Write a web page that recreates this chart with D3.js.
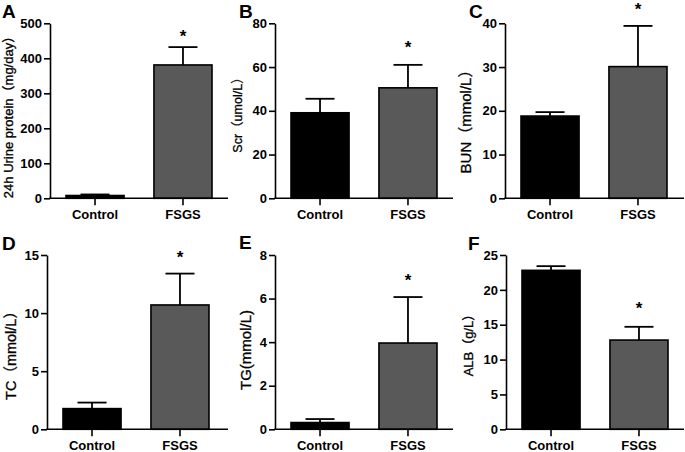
<!DOCTYPE html>
<html>
<head>
<meta charset="utf-8">
<script src="https://cdn.jsdelivr.net/npm/d3@7"></script>
<style>
  html, body { margin: 0; padding: 0; background: #fff; }
  svg { display: block; font-family: "Liberation Sans", Arial, "Noto Sans CJK SC", sans-serif; }
</style>
</head>
<body>
<svg id="chart" width="685" height="452"></svg>
<script>
// ---- data ----
const categories = ["Control", "FSGS"];
const panelLetters = ["A", "B", "C", "D", "E", "F"];
const yTitles = ["24h Urine protein（mg/day）", "Scr（umol/L）", "BUN（mmol/L）", "TC（mmol/L）", "TG(mmol/L)", "ALB（g/L）"];
const yMax = [500, 80, 40, 15, 8, 25];
const yTickStep = [100, 20, 10, 5, 2, 5];
const controlMean = [8, 39.1, 18.8, 1.78, 0.31, 22.8];
const controlUpper = [11, 45.5, 19.7, 2.3, 0.47, 23.4];
const fsgsMean = [381, 50.5, 30.1, 10.7, 3.96, 12.8];
const fsgsUpper = [432, 61, 39.4, 13.4, 6.07, 14.7];
const significant = ["FSGS", "FSGS", "FSGS", "FSGS", "FSGS", "FSGS"];

// ---- layout (not data) ----
const layout = [
  { axisX: 50,  top: 23.3, bottom: 198.3, right: 228, titleX: 13,  titleY: 114, titleSize: 13,   starGap: 14, letterX: 2,   letterY: 18 },
  { axisX: 275, top: 23.3, bottom: 198.3, right: 453, titleX: 242, titleY: 112, titleSize: 12.5, starGap: 21, letterX: 239, letterY: 18 },
  { axisX: 505, top: 23.3, bottom: 198.3, right: 684, titleX: 471, titleY: 118, titleSize: 15,   starGap: 20, letterX: 469, letterY: 18 },
  { axisX: 47,  top: 255,  bottom: 429.3, right: 228, titleX: 16,  titleY: 352, titleSize: 14.5, starGap: 20, letterX: 2,   letterY: 250 },
  { axisX: 275, top: 255,  bottom: 429.3, right: 453, titleX: 251, titleY: 350, titleSize: 15,   starGap: 20, letterX: 239, letterY: 249 },
  { axisX: 506, top: 255,  bottom: 429.3, right: 684, titleX: 473, titleY: 342, titleSize: 13,   starGap: 22, letterX: 468, letterY: 250 }
];
const fills = { Control: "#000000", FSGS: "#595959" };

const svg = d3.select("#chart");

panelLetters.forEach((letter, i) => {
  const L = layout[i];
  const g = svg.append("g");
  const y = d3.scaleLinear().domain([0, yMax[i]]).range([L.bottom, L.top]);
  const x = d3.scaleBand().domain(categories)
    .range([L.axisX + 16, L.axisX + 16 + 146]).paddingInner(0.34).paddingOuter(0);

  const rows = [
    { cat: "Control", mean: controlMean[i], upper: controlUpper[i] },
    { cat: "FSGS", mean: fsgsMean[i], upper: fsgsUpper[i] }
  ];

  // error bars
  const capW = 29;
  rows.forEach(r => {
    const cx = x(r.cat) + x.bandwidth() / 2;
    g.append("line").attr("x1", cx).attr("x2", cx)
      .attr("y1", y(r.mean)).attr("y2", y(r.upper))
      .attr("stroke", "#000").attr("stroke-width", 1.8);
    g.append("line").attr("x1", cx - capW / 2).attr("x2", cx + capW / 2)
      .attr("y1", y(r.upper)).attr("y2", y(r.upper))
      .attr("stroke", "#000").attr("stroke-width", 1.8);
  });

  // bars
  g.selectAll("rect.bar").data(rows).enter().append("rect")
    .attr("class", "bar")
    .attr("x", d => x(d.cat))
    .attr("width", x.bandwidth())
    .attr("y", d => y(d.mean))
    .attr("height", d => y(0) - y(d.mean))
    .attr("fill", d => fills[d.cat])
    .attr("stroke", "#000").attr("stroke-width", 1.6);

  // y axis
  const ticks = d3.range(0, yMax[i] + 1e-9, yTickStep[i]);
  const yAxis = d3.axisLeft(y).tickValues(ticks).tickSize(6).tickSizeOuter(0).tickPadding(2)
    .tickFormat(d3.format("d"));
  const ya = g.append("g").attr("transform", `translate(${L.axisX},0)`).call(yAxis);
  ya.select(".domain").attr("stroke-width", 1.6);
  ya.selectAll(".tick line").attr("stroke-width", 1.6);
  ya.selectAll(".tick text").attr("font-size", 13).attr("font-weight", "bold")
    .attr("font-family", "'Liberation Sans', Arial, sans-serif").attr("fill", "#000");

  // x axis
  const xa = g.append("g").attr("transform", `translate(0,${L.bottom})`);
  xa.append("line").attr("x1", L.axisX - 0.8).attr("x2", L.right)
    .attr("y1", 0).attr("y2", 0).attr("stroke", "#000").attr("stroke-width", 1.6);
  const xAxis = d3.axisBottom(x).tickSize(7).tickSizeOuter(0).tickPadding(4);
  const xg = xa.append("g").call(xAxis);
  xg.select(".domain").remove();
  xg.selectAll(".tick line").attr("stroke-width", 1.6);
  xg.selectAll(".tick text").attr("font-size", 13).attr("font-weight", "bold")
    .attr("font-family", "'Liberation Sans', Arial, sans-serif").attr("fill", "#000");

  // significance star
  rows.filter(r => r.cat === significant[i]).forEach(r => {
    const cx = x(r.cat) + x.bandwidth() / 2;
    g.append("text").attr("x", cx).attr("y", y(r.upper) - L.starGap + 9)
      .attr("text-anchor", "middle").attr("font-size", 17).attr("font-weight", "bold")
      .attr("font-family", "'Liberation Sans', Arial, sans-serif")
      .text("*");
  });

  // y title
  g.append("text")
    .attr("transform", `translate(${L.titleX},${L.titleY}) rotate(-90)`)
    .attr("text-anchor", "middle")
    .attr("font-size", L.titleSize)
    .attr("fill", "#000")
    .attr("stroke", "#000").attr("stroke-width", 0.3)
    .text(yTitles[i]);

  // panel letter
  g.append("text").attr("x", L.letterX).attr("y", L.letterY)
    .attr("font-size", 19).attr("font-weight", "bold")
    .attr("font-family", "'Liberation Sans', Arial, sans-serif")
    .text(letter);
});
</script>
</body>
</html>
